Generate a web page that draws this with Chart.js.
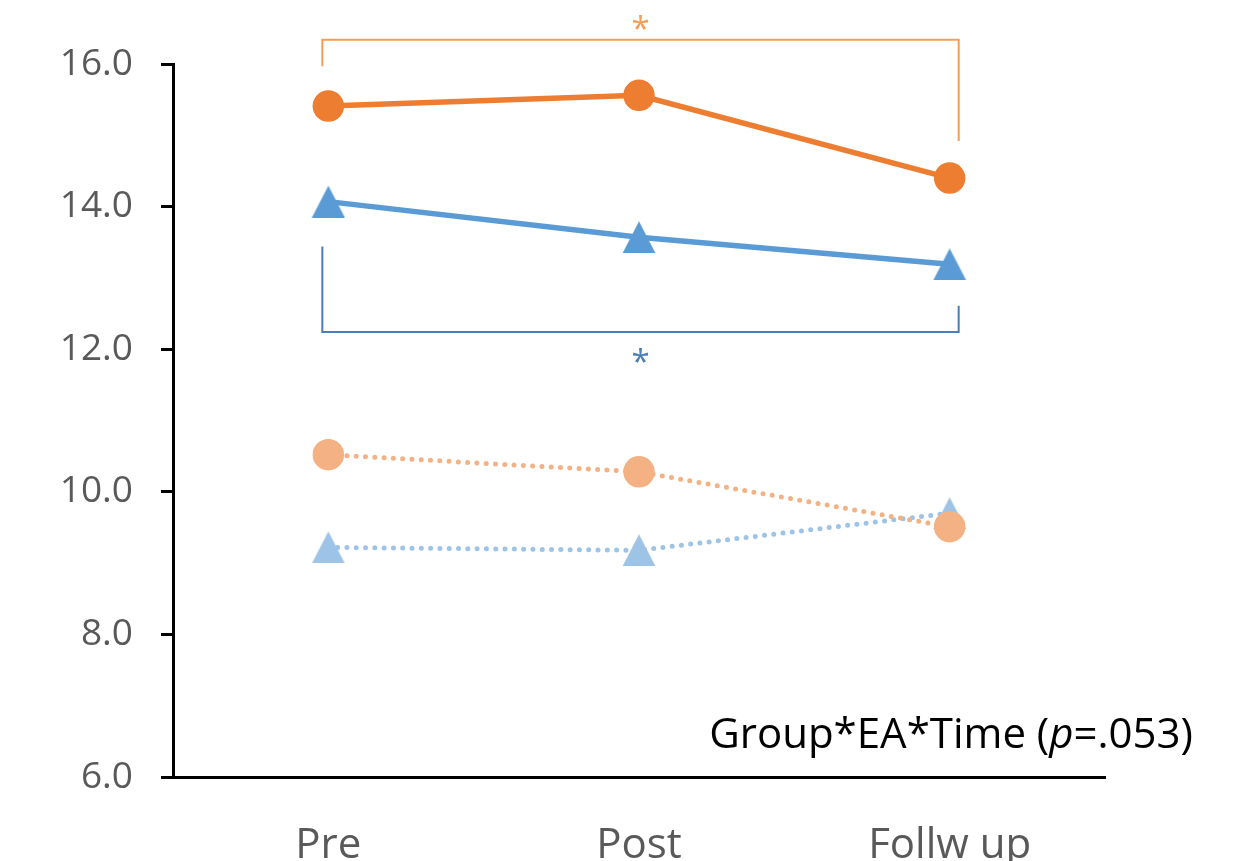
<!DOCTYPE html>
<html>
<head>
<meta charset="utf-8">
<script src="https://cdn.jsdelivr.net/npm/chart.js@4.4.1/dist/chart.umd.min.js"></script>
<style>
  html, body { margin: 0; padding: 0; background: #ffffff; }
  #wrap { width: 1239px; height: 861px; }
</style>
</head>
<body>
<div id="wrap"><canvas id="chart" width="1239" height="861"></canvas></div>
<script>
// Time points on the x axis
const categories = ['Pre', 'Post', 'Follw up'];

// Group means per time point
const orangeSolid  = [15.41, 15.56, 14.40];
const blueSolid    = [14.07, 13.57, 13.19];
const orangeDotted = [10.52, 10.28, 9.51];
const blueDotted   = [9.22, 9.18, 9.70];

// Y axis range and tick spacing
const yRange = [6, 16];
const yStep = 2;

// Significance brackets (y values: left end, bar, right end)
const orangeBracketY = [15.97, 16.34, 14.92];
const blueBracketY   = [13.44, 12.24, 12.61];
const bracketMark = '*';

// Interaction note, split so the "p" can be set in italics
const interactionNote = ['Group*EA*Time (', 'p', '=.053)'];

const FONT = '"Open Sans", "Liberation Sans", sans-serif';
const ORANGE = '#ED7D31';
const BLUE = '#5B9BD5';
const ORANGE_LIGHT = '#F4B183';
const BLUE_LIGHT = '#9DC3E6';

// Triangle marker sitting centred in its own box
function triangleMarker(color) {
  const c = document.createElement('canvas');
  c.width = 34; c.height = 32;
  const g = c.getContext('2d');
  g.fillStyle = color;
  g.beginPath();
  g.moveTo(17, 0);
  g.lineTo(33.5, 32);
  g.lineTo(0.5, 32);
  g.closePath();
  g.fill();
  return c;
}

const annotations = {
  id: 'annotations',
  afterDraw(chart) {
    const { ctx, scales: { x, y } } = chart;
    const xl = x.getPixelForValue(0) - 6;
    const xr = x.getPixelForValue(2) + 9;
    const xm = (xl + xr) / 2;

    function bracket(vals, color) {
      ctx.save();
      ctx.strokeStyle = color;
      ctx.lineWidth = 2;
      ctx.lineJoin = 'miter';
      ctx.beginPath();
      ctx.moveTo(xl, y.getPixelForValue(vals[0]));
      ctx.lineTo(xl, y.getPixelForValue(vals[1]));
      ctx.lineTo(xr, y.getPixelForValue(vals[1]));
      ctx.lineTo(xr, y.getPixelForValue(vals[2]));
      ctx.stroke();
      ctx.restore();
    }
    function star(cy, color) {
      ctx.save();
      ctx.font = '33px ' + FONT;
      ctx.fillStyle = color;
      ctx.textAlign = 'center';
      ctx.textBaseline = 'alphabetic';
      const m = ctx.measureText(bracketMark);
      const base = cy - (m.actualBoundingBoxDescent - m.actualBoundingBoxAscent) / 2;
      ctx.fillText(bracketMark, xm, base);
      ctx.restore();
    }

    bracket(orangeBracketY, '#F59D56');
    star(y.getPixelForValue(orangeBracketY[1]) - 17, '#F59D56');
    bracket(blueBracketY, '#4A7EBB');
    star(y.getPixelForValue(blueBracketY[1]) + 23, '#4A7EBB');

    // interaction note, right-aligned
    ctx.save();
    const normal = '42px ' + FONT;
    const italic = 'italic 42px ' + FONT;
    ctx.fillStyle = '#000000';
    ctx.textBaseline = 'alphabetic';
    ctx.textAlign = 'left';
    const fonts = [normal, italic, normal];
    let widths = interactionNote.map((t, i) => { ctx.font = fonts[i]; return ctx.measureText(t).width; });
    const total = widths.reduce((a, b) => a + b, 0);
    let tx = 1193 - total;
    const ty = 748;
    interactionNote.forEach((t, i) => {
      ctx.font = fonts[i];
      ctx.fillText(t, tx, ty);
      tx += widths[i];
    });
    ctx.restore();
  }
};

new Chart(document.getElementById('chart'), {
  type: 'line',
  data: {
    labels: categories,
    datasets: [
      {
        data: orangeSolid,
        borderColor: ORANGE, backgroundColor: ORANGE,
        borderWidth: 5.5,
        pointStyle: 'circle', pointRadius: 15, pointHoverRadius: 15,
        pointBackgroundColor: ORANGE, pointBorderColor: ORANGE, pointBorderWidth: 1.5
      },
      {
        data: blueSolid,
        borderColor: BLUE, backgroundColor: BLUE,
        borderWidth: 5.5,
        pointStyle: triangleMarker(BLUE), pointRadius: 16
      },
      {
        data: orangeDotted,
        borderColor: ORANGE_LIGHT, backgroundColor: ORANGE_LIGHT,
        borderWidth: 5, borderDash: [0, 9.3], borderCapStyle: 'round',
        pointStyle: 'circle', pointRadius: 15, pointHoverRadius: 15,
        pointBackgroundColor: ORANGE_LIGHT, pointBorderColor: ORANGE_LIGHT, pointBorderWidth: 1.5
      },
      {
        data: blueDotted,
        borderColor: BLUE_LIGHT, backgroundColor: BLUE_LIGHT,
        borderWidth: 5, borderDash: [0, 9.3], borderCapStyle: 'round',
        pointStyle: triangleMarker(BLUE_LIGHT), pointRadius: 16
      }
    ]
  },
  options: {
    responsive: false,
    animation: false,
    devicePixelRatio: 1,
    layout: { padding: { top: 64, right: 134, left: 0, bottom: 0 } },
    plugins: { legend: { display: false }, tooltip: { enabled: false } },
    scales: {
      x: {
        type: 'category',
        offset: true,
        grid: { display: false, drawTicks: false },
        border: { display: true, color: '#000000', width: 3 },
        ticks: { color: '#595959', font: { family: FONT, size: 42 }, padding: 44 },
        afterFit(scale) { scale.height = 84; }
      },
      y: {
        min: yRange[0], max: yRange[1],
        ticks: {
          stepSize: yStep,
          color: '#595959',
          font: { family: FONT, size: 37 },
          padding: 28,
          callback: v => Number(v).toFixed(1)
        },
        grid: { drawOnChartArea: false, drawTicks: true, tickLength: 12, tickWidth: 3, tickColor: '#000000' },
        border: { display: true, color: '#000000', width: 3 },
        afterFit(scale) { scale.width = 173; }
      }
    }
  },
  plugins: [annotations]
});
</script>
</body>
</html>
